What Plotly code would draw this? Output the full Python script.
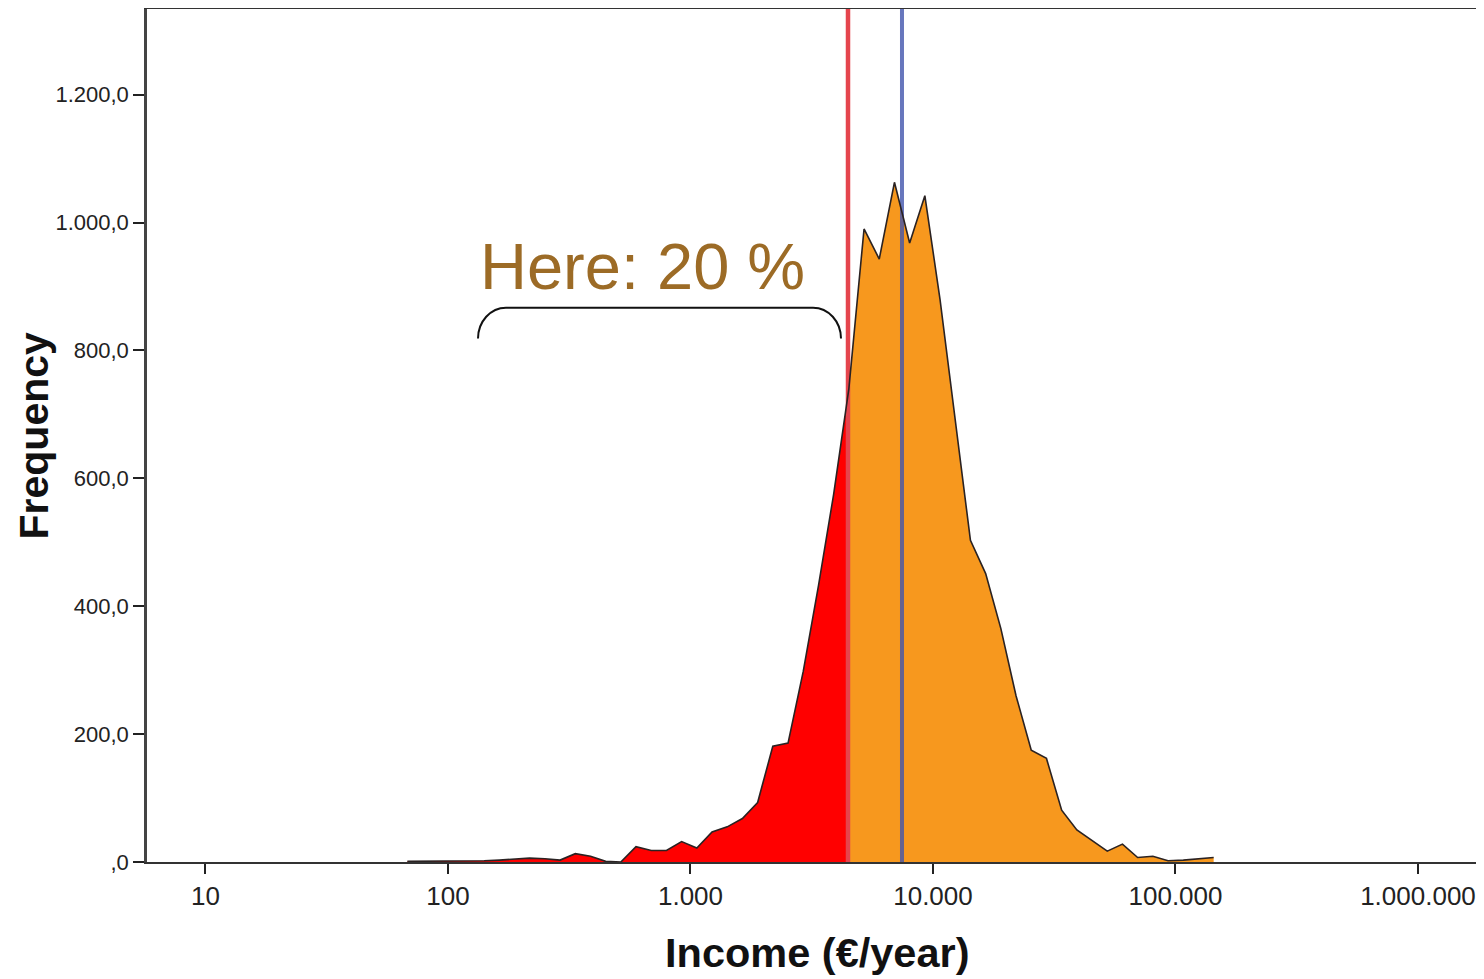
import numpy as np
import plotly.graph_objects as go

# Income bin positions (€/year) and frequencies
income = [68, 79, 91, 106, 122, 141, 163, 188, 217, 251, 290, 335, 387, 447, 516,
          596, 689, 796, 919, 1062, 1227, 1417, 1637, 1892, 2185, 2525, 2917, 3370,
          3893, 4498, 5196, 6003, 6935, 8012, 9256, 10690, 12350, 14270, 16490,
          19050, 22000, 25420, 29370, 33930, 39200, 45290, 52320, 60440, 69830,
          80670, 93190, 107700, 124400, 143700]
frequency = [1, 1, 1, 1, 2, 2, 3, 5, 6, 5, 3, 13, 9, 1, 0,
             24, 18, 18, 32, 22, 47, 55, 68, 93, 181, 186, 298, 432,
             575, 740, 990, 943, 1063, 968, 1042, 880, 691, 503, 451,
             365, 260, 175, 162, 81, 50, 34, 17, 28, 7,
             9, 2, 3, 5, 7]

cutoff_income = 4462      # red line (poverty threshold)
median_income = 7450      # blue line

x_ticks = [10, 100, 1000, 10000, 100000, 1000000]
x_ticktext = ["10", "100", "1.000", "10.000", "100.000", "1.000.000"]
y_ticks = [0, 200, 400, 600, 800, 1000, 1200]
y_ticktext = [",0", "200,0", "400,0", "600,0", "800,0", "1.000,0", "1.200,0"]

Y_MAX = 1334

# split the curve at the cutoff (interpolated on the log scale)
lx = np.log10(income)
lc = np.log10(cutoff_income)
k = int(np.searchsorted(lx, lc))
f = (lc - lx[k - 1]) / (lx[k] - lx[k - 1])
cut_val = frequency[k - 1] + f * (frequency[k] - frequency[k - 1])

red_x = income[:k] + [cutoff_income]
red_y = frequency[:k] + [cut_val]
org_x = [cutoff_income] + income[k:]
org_y = [cut_val] + frequency[k:]

fig = go.Figure()
fig.add_trace(go.Scatter(x=red_x, y=red_y, mode="lines", fill="tozeroy",
                         fillcolor="#ff0000", line=dict(width=0), hoverinfo="skip"))
fig.add_trace(go.Scatter(x=org_x, y=org_y, mode="lines", fill="tozeroy",
                         fillcolor="#f7981e", line=dict(width=0), hoverinfo="skip"))
fig.add_trace(go.Scatter(x=[cutoff_income, cutoff_income], y=[0, Y_MAX], mode="lines",
                         line=dict(color="#e5454d", width=4.5)))
fig.add_trace(go.Scatter(x=[median_income, median_income], y=[0, Y_MAX], mode="lines",
                         line=dict(color="#4256ad", width=4), opacity=0.8))
fig.add_trace(go.Scatter(x=income, y=frequency, mode="lines",
                         line=dict(color="#2a2222", width=1.6)))

# page body has an 8px margin: plot area spans screen x 147..1484, y 8..862
PL, PR, PT, PB = 147, 1484, 8, 862
PW, PH = PR - PL, PB - PT

def fx(px):
    return (px - PL) / PW

def fy(py):
    return (PB - py) / PH

# brace (paper coordinates)
x0, x1 = fx(478), fx(841)
yb, yt = fy(338), fy(307)
rx = 28 / PW
kk = 0.5523
path = (f"M {x0},{yb} C {x0},{yb + kk*(yt-yb)} {x0 + rx*(1-kk)},{yt} {x0 + rx},{yt} "
        f"L {x1 - rx},{yt} C {x1 - rx*(1-kk)},{yt} {x1},{yb + kk*(yt-yb)} {x1},{yb}")

fig.update_layout(
    width=1476, height=971,
    margin=dict(l=PL - 8, r=0, t=1, b=971 - (PB - 8)),
    paper_bgcolor="white", plot_bgcolor="white",
    showlegend=False,
    font=dict(family="Liberation Sans, Arial, sans-serif", color="#222"),
    xaxis=dict(type="log", range=[0.7588, 6.2722], tickvals=x_ticks, ticktext=x_ticktext,
               ticks="outside", ticklen=10, tickwidth=1.5, tickcolor="#222",
               showline=True, linecolor="#333", linewidth=2, mirror=True,
               showgrid=False, zeroline=False,
               tickfont=dict(size=26, color="#222")),
    yaxis=dict(range=[0, Y_MAX], tickvals=y_ticks, ticktext=y_ticktext,
               ticks="outside", ticklen=11, tickwidth=1.5, tickcolor="#222",
               showline=True, linecolor="#444", linewidth=2.5,
               showgrid=False, zeroline=False,
               tickfont=dict(size=22, color="#222")),
    shapes=[dict(type="path", xref="paper", yref="paper", path=path,
                 line=dict(color="#111", width=2))],
    annotations=[
        dict(text="Here: 20 %", xref="paper", yref="paper",
             x=fx(642), y=fy(266), showarrow=False,
             font=dict(size=65, color="#9c6b26"), xanchor="center", yanchor="middle"),
        dict(text="<b>Frequency</b>", xref="paper", yref="paper",
             x=fx(33), y=0.5, showarrow=False, textangle=-90,
             font=dict(size=41, color="#111"), xanchor="center", yanchor="middle"),
        dict(text="<b>Income (€/year)</b>", xref="paper", yref="paper",
             x=fx(817), y=fy(953), showarrow=False,
             font=dict(size=41.5, color="#111"), xanchor="center", yanchor="middle"),
    ],
)

fig.write_html("out.html")
